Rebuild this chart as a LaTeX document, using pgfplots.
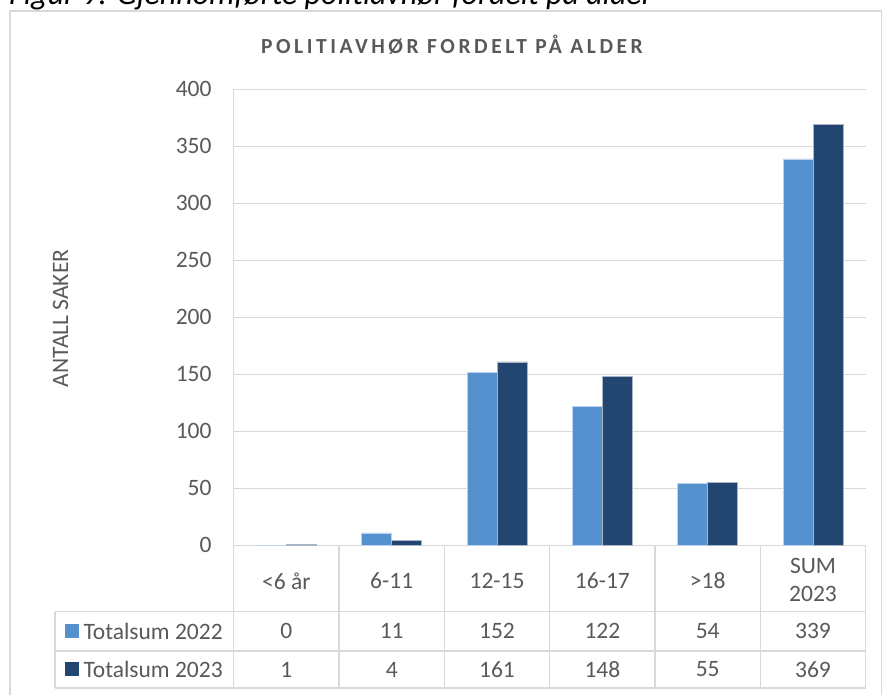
\documentclass[border=0pt]{standalone}
\usepackage{fontspec}
\setmainfont{Carlito}
\usepackage{pgfplots}
\pgfplotsset{compat=1.18}
\definecolor{c22}{HTML}{5591CF}
\definecolor{c23}{HTML}{224670}
\definecolor{gridc}{HTML}{D9D9D9}
\definecolor{txt}{HTML}{595959}
\newcommand{\fs}{\fontsize{23.5}{28}\selectfont}
\begin{document}
\begin{tikzpicture}[x=1pt,y=1pt]
\useasboundingbox (0,0) rectangle (885,694);
\clip (0,0) rectangle (885,694);
% chart border
\draw[gridc, line width=1.5pt] (10,-20) rectangle (881.5,683);
% caption (cut off at the top, as in the reference)
\node[anchor=base west, inner sep=0pt, font=\fontsize{32}{36}\selectfont\itshape] at (9,689) {Figur 9: Gjennomførte politiavhør fordelt på alder};
% title
\node[inner sep=0pt, text=txt, font=\fontsize{21.5}{26}\selectfont\bfseries\addfontfeatures{LetterSpace=16.5}] at (452,649.3) {POLITIAVHØR FORDELT PÅ ALDER};
% y label
\node[rotate=90, inner sep=0pt, text=txt, font=\fs] at (60.5,375.5) {ANTALL SAKER};
\begin{axis}[
  at={(233.7pt,148.7pt)}, anchor=south west,
  scale only axis, width=632pt, height=456pt,
  ybar=0pt, bar width=30pt,
  xmin=-0.5, xmax=5.5, ymin=0, ymax=400,
  ytick={0,50,...,400}, xtick=\empty,
  ymajorgrids, grid style={gridc, line width=1.5pt},
  axis x line*=bottom, axis y line*=left,
  axis line style={gridc, line width=1.5pt},
  major tick length=0pt,
  yticklabel style={font=\fs, text=txt, anchor=east, inner sep=0pt, xshift=-22pt},
  /pgf/number format/assume math mode=true,
]
\addplot[fill=c22, draw=white!60!c22, line width=0.5pt] coordinates {(0,0) (1,11) (2,152) (3,122) (4,54) (5,339)};
\addplot[fill=c23, draw=white!60!c23, line width=0.5pt] coordinates {(0,1) (1,4) (2,161) (3,148) (4,55) (5,369)};
\end{axis}
% data table grid
\draw[gridc, line width=1.5pt] (55,82.3) -- (865.7,82.3);
\draw[gridc, line width=1.5pt] (55,43) -- (865.7,43);
\draw[gridc, line width=1.5pt] (55,6) -- (865.7,6);
\draw[gridc, line width=1.5pt] (55,82.3) -- (55,6);
\foreach \xx in {233.7,339.0,444.4,549.7,655.0,760.4,865.7}
  \draw[gridc, line width=1.5pt] (\xx,148.7) -- (\xx,6);
% header row
\foreach \xx/\lab in {286.4/{<6 år},391.7/{6-11},497.0/{12-15},602.4/{16-17},707.7/{>18}}
  \node[inner sep=0pt, text=txt, font=\fs] at (\xx,113) {\lab};
\node[inner sep=0pt, text=txt, font=\fs, align=center] at (813.0,114) {SUM\\2023};
% legend keys
\fill[c22] (65,56) rectangle (79,70);
\fill[c23] (65,17.8) rectangle (79,31.8);
\node[anchor=west, inner sep=0pt, text=txt, font=\fs] at (83.3,62.7) {Totalsum 2022};
\node[anchor=west, inner sep=0pt, text=txt, font=\fs] at (83.3,24.5) {Totalsum 2023};
% values
\foreach \xx/\va/\vb in {286.4/0/1,391.7/11/4,497.0/152/161,602.4/122/148,707.7/54/55,813.0/339/369}{
  \node[inner sep=0pt, text=txt, font=\fs] at (\xx,62.7) {\va};
  \node[inner sep=0pt, text=txt, font=\fs] at (\xx,24.5) {\vb};
}
\end{tikzpicture}
\end{document}
